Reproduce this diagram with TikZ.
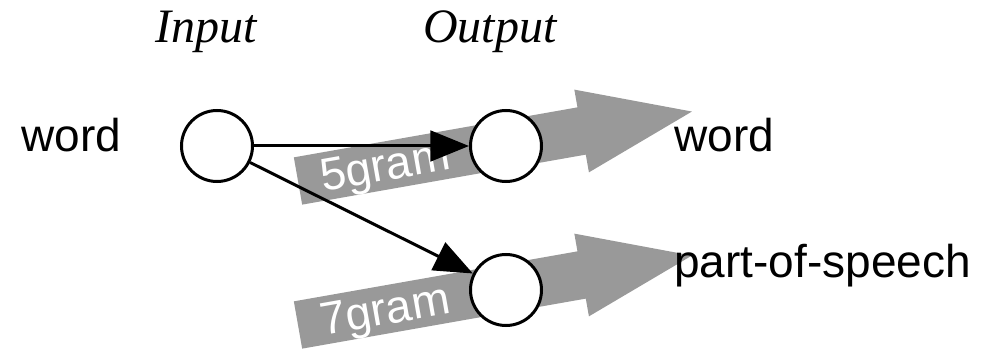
\documentclass[tikz,border=0pt]{standalone}
\usepackage{fontspec}
\setmainfont{Liberation Sans}
\newfontfamily\serifit{Liberation Serif}
\usetikzlibrary{arrows.meta}
\definecolor{flowgray}{RGB}{153,153,153}
\begin{document}
\begin{tikzpicture}[x=0.75pt,y=-0.75pt,
  unit/.style={circle,draw,line width=2.25pt,fill=white,minimum size=53.25pt,inner sep=0pt},
  link/.style={line width=2.25pt,-{Triangle[length=29pt,width=23pt]}},
  txt/.style={font=\fontsize{34.5}{40}\selectfont,inner sep=0pt,anchor=base west},
  heading/.style={font=\serifit\itshape\fontsize{36}{42}\selectfont,inner sep=0pt,anchor=base west},
  flowtext/.style={text=white,font=\fontsize{34.5}{40}\selectfont,inner sep=0pt,anchor=base west,rotate=10}]
\useasboundingbox (0,0) rectangle (983,349);

% column headings
\node[heading] (hin) at (155,43) {Input};
\node[heading] (hout) at (423,43) {Output};

% broad gray flow arrows with their n-gram labels
\foreach \yy/\t/\n in {181/5gram/a, 325/7gram/b} {
  \begin{scope}[shift={(298,\yy)},rotate=10]
    \fill[flowgray] (0,-24) -- (288,-24) -- (288,-42) -- (400,0) -- (288,42) -- (288,24) -- (0,24) -- cycle;
    \node[flowtext] (g\n) at (23,15) {\t};
  \end{scope}
}

% units
\node[unit] (in) at (217,146) {};
\node[unit] (wo) at (506,146) {};
\node[unit] (po) at (506,290) {};

% connections
\draw[link] (in) -- (wo);
\draw[link] (in) -- (po);

% unit labels
\node[txt] (lin) at (21,152) {word};
\node[txt] (lwo) at (674,152) {word};
\node[txt] (lpo) at (674,278) {part-of-speech};
\end{tikzpicture}
\end{document}
